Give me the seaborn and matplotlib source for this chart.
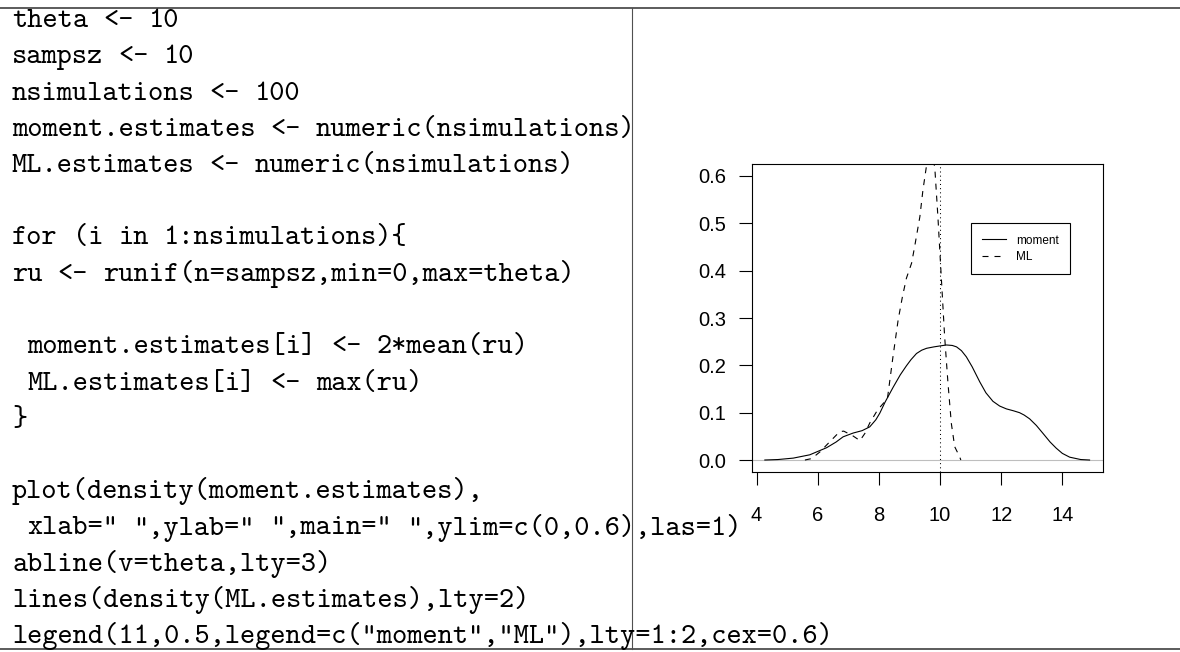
import re
import matplotlib
matplotlib.use("Agg")
import matplotlib.pyplot as plt
from matplotlib.lines import Line2D
import seaborn as sns

# ---------------- data ----------------
code_lines = [
    "theta <- 10",
    "sampsz <- 10",
    "nsimulations <- 100",
    "moment.estimates <- numeric(nsimulations)",
    "ML.estimates <- numeric(nsimulations)",
    "",
    "for (i in 1:nsimulations){",
    "ru <- runif(n=sampsz,min=0,max=theta)",
    "",
    " moment.estimates[i] <- 2*mean(ru)",
    " ML.estimates[i] <- max(ru)",
    "}",
    "",
    "plot(density(moment.estimates),",
    " xlab=\" \",ylab=\" \",main=\" \",ylim=c(0,0.6),las=1)",
    "abline(v=theta,lty=3)",
    "lines(density(ML.estimates),lty=2)",
    "legend(11,0.5,legend=c(\"moment\",\"ML\"),lty=1:2,cex=0.6)",
]

moment_x = [4.27, 4.70, 5.20, 5.74, 6.29, 6.60, 6.83, 7.16, 7.45, 7.70, 7.90, 8.03, 8.20,
            8.46, 8.70, 8.90, 9.05, 9.23, 9.40, 9.56, 9.80, 10.00, 10.21, 10.40, 10.54,
            10.70, 10.86, 11.05, 11.30, 11.50, 11.73, 11.95, 12.17, 12.40, 12.60, 12.75,
            12.93, 13.15, 13.37, 13.60, 13.80, 14.00, 14.24, 14.60, 14.89]
moment_y = [0.000, 0.001, 0.004, 0.011, 0.026, 0.038, 0.049, 0.057, 0.062, 0.070, 0.085, 0.099, 0.122,
            0.153, 0.180, 0.199, 0.212, 0.225, 0.232, 0.236, 0.239, 0.241, 0.243, 0.242, 0.239,
            0.231, 0.218, 0.197, 0.165, 0.142, 0.124, 0.114, 0.108, 0.104, 0.100, 0.095,
            0.087, 0.073, 0.056, 0.038, 0.025, 0.014, 0.006, 0.001, 0.000]

ml_x = [5.58, 5.80, 6.07, 6.40, 6.72, 6.85, 7.15, 7.38, 7.54, 7.70, 7.95,
        8.28, 8.46, 8.63, 8.77, 8.90, 9.07, 9.17, 9.34, 9.44, 9.56, 9.70,
        9.83, 9.93, 10.04, 10.15, 10.26, 10.37, 10.48, 10.64, 10.68]
ml_y = [0.000, 0.003, 0.017, 0.039, 0.060, 0.061, 0.051, 0.041, 0.056, 0.078, 0.105,
        0.130, 0.218, 0.296, 0.345, 0.384, 0.416, 0.451, 0.514, 0.570, 0.623, 0.670,
        0.616, 0.514, 0.387, 0.261, 0.162, 0.077, 0.028, 0.007, 0.000]

theta = 10
x_ticks = [4, 6, 8, 10, 12, 14]
y_ticks = [0.0, 0.1, 0.2, 0.3, 0.4, 0.5, 0.6]
y_tick_labels = ["0.0", "0.1", "0.2", "0.3", "0.4", "0.5", "0.6"]
legend_labels = ["moment", "ML"]

# ---------------- figure ----------------
W, H = 1180, 652
fig = plt.figure(figsize=(W / 100, H / 100), dpi=100)
fig.patch.set_facecolor("white")

def fx(px):
    return px / W

def fy(py):
    return 1 - py / H

# table lines
fig.add_artist(Line2D([0, 1], [fy(8.3), fy(8.3)], transform=fig.transFigure,
                      color="#404040", lw=1.2))
fig.add_artist(Line2D([0, 1], [fy(649.3), fy(649.3)], transform=fig.transFigure,
                      color="#404040", lw=1.2))
fig.add_artist(Line2D([fx(631.7), fx(631.7)], [fy(8.3), fy(649.3)],
                      transform=fig.transFigure, color="#505050", lw=0.8))

# code text (monospace grid)
code_family = ["cmtt10", "Liberation Mono", "DejaVu Sans Mono"]
char_w = 15.2
x0 = 12.0
base0 = 27.0
line_h = 36.25
for i, line in enumerate(code_lines):
    for m in re.finditer(r"\S+", line):
        fig.text(fx(x0 + char_w * m.start()), fy(base0 + line_h * i), m.group(0),
                 family=code_family, fontsize=20.85, va="baseline", ha="left",
                 color="black")

# plot axes
left, right, top, bottom = 751.7, 1102.7, 164.3, 471.7
ax = fig.add_axes([fx(left), fy(bottom), (right - left) / W, (bottom - top) / H])
ax.set_facecolor("white")

ax.axhline(0, color="#BEBEBE", lw=0.8, zorder=1)
ax.axvline(theta, color="black", lw=0.75, linestyle=(0, (1, 3)), zorder=2)

sns.lineplot(x=moment_x, y=moment_y, ax=ax, color="black", lw=0.8,
             sort=False, estimator=None, label=legend_labels[0], zorder=3)
sns.lineplot(x=ml_x, y=ml_y, ax=ax, color="black", lw=0.8,
             linestyle=(0, (5.4, 5.4)), sort=False, estimator=None,
             label=legend_labels[1], zorder=3)

ax.set_xlim(3.84, 15.32)
ax.set_ylim(-0.0247, 0.6247)
ax.set_xticks(x_ticks)
ax.set_xticklabels([str(t) for t in x_ticks])
ax.set_yticks(y_ticks)
ax.set_yticklabels(y_tick_labels)
ax.set_xlabel("")
ax.set_ylabel("")
for s in ax.spines.values():
    s.set_color("black")
    s.set_linewidth(0.8)
ax.tick_params(axis="both", direction="out", length=9.4, width=0.8, color="black",
               labelsize=14.5, labelcolor="black")
ax.tick_params(axis="x", pad=15)
ax.tick_params(axis="y", pad=9)
for lab in ax.get_xticklabels() + ax.get_yticklabels():
    lab.set_family("Liberation Sans")

leg = ax.legend(loc="upper left", bbox_to_anchor=(fx(970.7), fy(223.3)),
                bbox_transform=fig.transFigure, borderaxespad=0,
                prop={"family": "Liberation Sans", "size": 8.5},
                frameon=True, fancybox=False, shadow=False, framealpha=1,
                edgecolor="black", handlelength=2.0, handletextpad=0.9,
                labelspacing=0.35, borderpad=0.95)
leg.get_frame().set_linewidth(0.8)

fig.savefig("out.png", dpi=100, facecolor="white")
